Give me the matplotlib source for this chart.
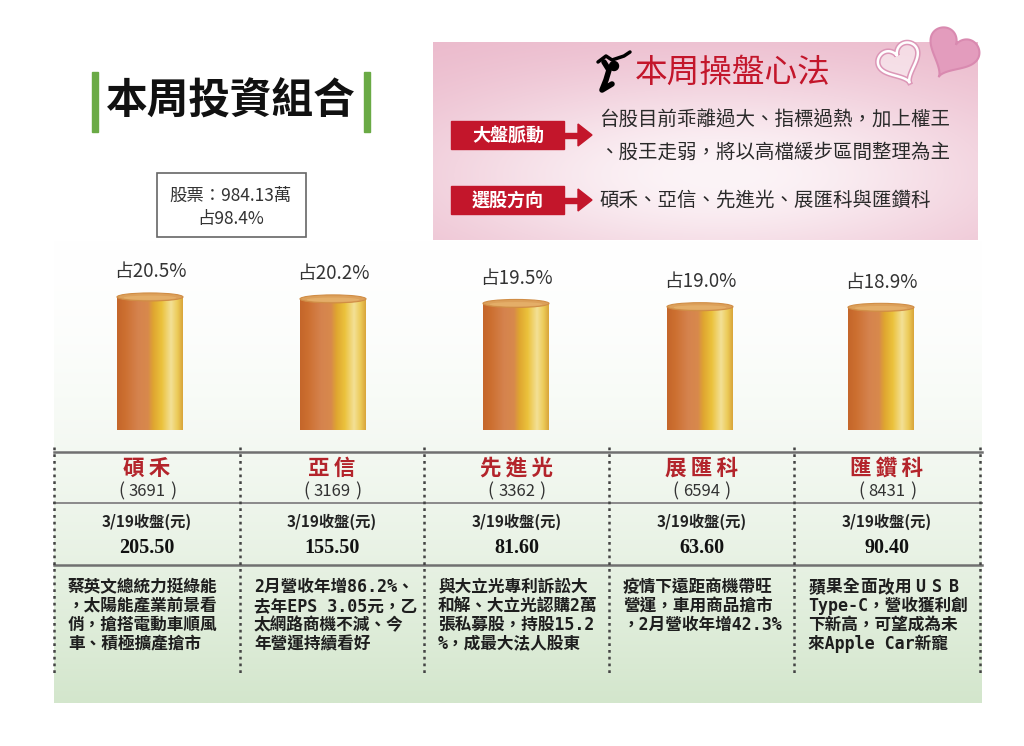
import numpy as np
import matplotlib
matplotlib.use('Agg')
import matplotlib.pyplot as plt
from matplotlib.patches import Rectangle, Ellipse, Polygon
from matplotlib.colors import LinearSegmentedColormap, to_rgb

CJK = ['Noto Sans CJK TC', 'DejaVu Sans']
MONO = ['DejaVu Sans Mono', 'Noto Sans CJK TC']
plt.rcParams['font.family'] = CJK

# ---------------- data ----------------
title = '本周投資組合'
stock_total = '股票：984.13萬'
stock_share = '占98.4%'
strategy_title = '本周操盤心法'
strategy_labels = ['大盤脈動', '選股方向']
market_lines = ['台股目前乖離過大、指標過熱，加上權王',
                '、股王走弱，將以高檔緩步區間整理為主']
pick_line = '碩禾、亞信、先進光、展匯科與匯鑽科'
names = ['碩禾', '亞信', '先進光', '展匯科', '匯鑽科']
codes = ['3691', '3169', '3362', '6594', '8431']
weights = [20.5, 20.2, 19.5, 19.0, 18.9]
close_label = '3/19收盤(元)'
close_prices = [205.50, 155.50, 81.60, 63.60, 90.40]
notes = [
    ['蔡英文總統力挺綠能', '，太陽能產業前景看', '俏，搶搭電動車順風', '車、積極擴產搶市'],
    ['2月營收年增86.2%、', '去年EPS 3.05元，乙', '太網路商機不減、今', '年營運持續看好'],
    ['與大立光專利訴訟大', '和解、大立光認購2萬', '張私募股，持股15.2', '%，成最大法人股東'],
    ['疫情下遠距商機帶旺', '營運，車用商品搶市', '，2月營收年增42.3%'],
    ['蘋果全面改用USB', 'Type-C，營收獲利創', '下新高，可望成為未', '來Apple Car新寵'],
]

# ---------------- layout ----------------
W, H = 1024, 746
fig = plt.figure(figsize=(W / 100, H / 100), dpi=100)
fig.patch.set_facecolor('white')
ax = fig.add_axes([0, 0, 1, 1])
ax.axis('off')

def mix(c1, c2, t):
    c1 = np.array(to_rgb(c1)); c2 = np.array(to_rgb(c2))
    t = np.asarray(t)[..., None]
    return (1 - t) * c1 + t * c2

# lower panel gradient (white -> light green)
t = np.linspace(0, 1, 300)[:, None] ** 1.7
panel = mix('#ffffff', '#d3e6cc', np.repeat(t, 2, axis=1))
ax.imshow(panel, extent=[54, 982, 703, 240], aspect='auto', zorder=0, interpolation='bilinear')

# pink box gradient
px0, px1, py0, py1 = 433, 978, 42, 240
xx, yy = np.meshgrid(np.linspace(px0, px1, 300), np.linspace(py0, py1, 120))
f = np.exp(-((xx - 720) / 320) ** 2 - ((yy - 175) / 105) ** 2)
pink = mix('#eab6c9', '#fcf4f7', f)
ax.imshow(pink, extent=[px0, px1, py1, py0], aspect='auto', zorder=0, interpolation='bilinear')

# title with green bars
ax.add_patch(Rectangle((92, 72), 6, 60, color='#6aaa45', zorder=2))
ax.add_patch(Rectangle((364, 72), 6, 60, color='#6aaa45', zorder=2))
ax.text(231, 102, title, fontsize=30, fontweight='bold', ha='center', va='center', color='#111111')

# stock box
ax.add_patch(Rectangle((157, 173), 149, 64, facecolor='white', edgecolor='#666666', lw=1.2, zorder=2))
ax.text(231, 196, stock_total, fontsize=12.5, ha='center', va='center', color='#333333', zorder=3)
ax.text(231, 219, stock_share, fontsize=12.5, ha='center', va='center', color='#333333', zorder=3)

# strategy title + icon
ax.plot([598, 606, 612, 624, 630], [62, 56, 60, 56, 52], color='black', lw=2.5, solid_capstyle='round', zorder=3)
ax.plot([604, 609, 606, 602, 612], [62, 70, 80, 90, 84], color='black', lw=4, solid_capstyle='round', zorder=3)
ax.add_patch(Ellipse((614, 66), 9, 9, color='black', zorder=3))
ax.text(733, 73, strategy_title, fontsize=23.5, color='#c3162b', ha='center', va='center', zorder=3)

# hearts
def heart(cx, cy, width, ang):
    tt = np.linspace(0, 2 * np.pi, 200)
    hx = 16 * np.sin(tt) ** 3
    hy = 13 * np.cos(tt) - 5 * np.cos(2 * tt) - 2 * np.cos(3 * tt) - np.cos(4 * tt)
    s = width / 32
    a = np.deg2rad(ang)
    rx = hx * np.cos(a) - hy * np.sin(a)
    ry = hx * np.sin(a) + hy * np.cos(a)
    return np.column_stack([cx + rx * s, cy - ry * s])

ax.add_patch(Polygon(heart(952, 52, 52, -28), closed=True, facecolor='#e39cbd', edgecolor='#d98ab0', lw=1.5, zorder=3))
ax.add_patch(Polygon(heart(900, 62, 42, 25), closed=True, facecolor=(1, 1, 1, 0.45), edgecolor='#dc97b7', lw=4.0, zorder=4))
ax.add_patch(Polygon(heart(900, 62, 42, 25), closed=True, facecolor='none', edgecolor='white', lw=1.8, zorder=4))

# red labels with arrows
for lab, yc in zip(strategy_labels, [135, 200]):
    ax.add_patch(Rectangle((451, yc - 14), 113, 28, color='#c3162b', zorder=3))
    ax.text(508, yc, lab, fontsize=13, fontweight='bold', color='white', ha='center', va='center', zorder=4)
    ax.add_patch(Rectangle((563, yc - 2.5), 17, 5, color='#c3162b', zorder=3))
    ax.add_patch(Polygon([[578, yc - 11], [592, yc], [578, yc + 11]], closed=True, color='#c3162b', zorder=3))

for line, yc in zip(market_lines, [120, 152]):
    ax.text(599, yc, line, fontsize=14, color='#2a2a2a', ha='left', va='center', zorder=4)
ax.text(599, 200, pick_line, fontsize=14, color='#2a2a2a', ha='left', va='center', zorder=4)

# table grid
col_edges = [54, 240, 424, 609, 794, 980]
col_centers = [(a + b) / 2 for a, b in zip(col_edges[:-1], col_edges[1:])]
for yl, lw, c in [(452, 1.8, '#707070'), (503, 1.4, '#8a8a8a'), (565, 1.8, '#707070')]:
    ax.plot([54, 982], [yl, yl], color=c, lw=lw, zorder=2)
for xe in col_edges:
    ax.plot([xe, xe], [447, 673], color='#444444', lw=1.8, linestyle=(0, (1.1, 1.6)), zorder=3)

TS = '\u2009'
for i, xc in enumerate(col_centers):
    ax.text(xc, 468, TS.join(names[i]), fontsize=15.5, fontweight='bold', color='#b3242b',
            ha='center', va='center', family=CJK, zorder=4)
    ax.text(xc - 26, 491, '(', fontsize=13, color='#333333', ha='center', va='center', zorder=4)
    ax.text(xc, 491, codes[i], fontsize=12, color='#333333', ha='center', va='center', zorder=4)
    ax.text(xc + 26, 491, ')', fontsize=13, color='#333333', ha='center', va='center', zorder=4)
    ax.text(xc, 522, close_label, fontsize=11, fontweight='bold', color='#222222', ha='center', va='center', zorder=4)
    ax.text(xc, 548, f'{close_prices[i]:.2f}', fontsize=14.5, fontweight='bold', color='#111111',
            ha='center', va='center', family='Liberation Serif', zorder=4)
    left = col_edges[i] + 14
    for j, line in enumerate(notes[i]):
        yl = 587 + j * 19
        if i == 4 and j == 0:
            # justified first line
            step = 155 / len(line)
            for k, ch in enumerate(line):
                ax.text(left + (k + 0.5) * step, yl, ch, fontsize=12, color='#1e1e1e', ha='center',
                        va='center', family=MONO, fontweight='bold', zorder=4)
        else:
            ax.text(left, yl, line, fontsize=12, color='#1e1e1e', ha='left', va='center',
                    family=MONO, fontweight='bold', zorder=4)

ax.set_xlim(0, W)
ax.set_ylim(H, 0)

# ---------------- cylinders (bar axes) ----------------
PXU = 6.49  # pixels per percentage point
base_px = 430
span_px = 200
bax = fig.add_axes([0, (H - base_px) / H, 1, span_px / H])
bax.set_xlim(0, W)
bax.set_ylim(0, span_px / PXU)
bax.axis('off')
bax.patch.set_alpha(0)

cyl_x = [150, 333, 516, 700, 881]
cyl_w = 66
cmap = LinearSegmentedColormap.from_list('gold', [
    (0.0, '#c4662a'), (0.12, '#cc6f30'), (0.32, '#d5834e'), (0.47, '#d8894c'),
    (0.55, '#dfa530'), (0.68, '#ebc23c'), (0.82, '#f3e096'), (0.92, '#eccb58'), (1.0, '#d9a43a')])
grad = np.linspace(0, 1, 256)[None, :]
bars = bax.bar(cyl_x, weights, width=cyl_w, color='none', edgecolor='none', zorder=2)
cap_h = 8 / PXU
for b, w in zip(bars, weights):
    x0 = b.get_x(); x1 = x0 + b.get_width(); h = b.get_height()
    im = bax.imshow(grad, extent=[x0, x1, 0, h], aspect='auto', cmap=cmap, zorder=2, interpolation='bilinear')
    im.set_clip_path(b)
    bax.add_patch(Ellipse(((x0 + x1) / 2, h), b.get_width(), cap_h, facecolor='#dca05a',
                          edgecolor='#d08d45', lw=0.8, zorder=3))
    bax.add_patch(Ellipse(((x0 + x1) / 2, h - cap_h * 0.1), b.get_width() * 0.8, cap_h * 0.55,
                          facecolor='#e4ae68', edgecolor='none', zorder=3))
    bax.annotate(f'占{w:.1f}%', xy=((x0 + x1) / 2, h), xytext=(0, 18), textcoords='offset points',
                 fontsize=13.5, color='#333333', ha='center', va='center')
bax.set_xlim(0, W)
bax.set_ylim(0, span_px / PXU)

fig.savefig('out.png', dpi=100)
